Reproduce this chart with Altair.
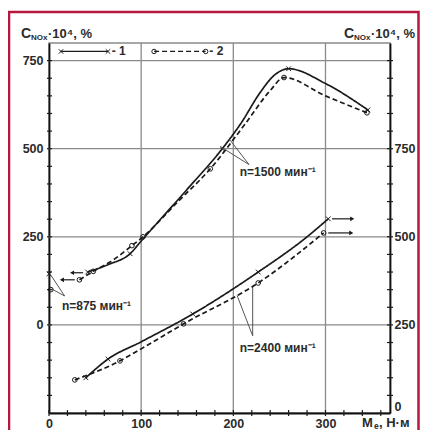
import altair as alt
import pandas as pd

# ---------------- data ----------------
# Me, N*m  vs  C_NOx*10^4, %
# n = 1500 1/min  (left axis)
n1500_1_x = [42, 65, 88, 100, 150, 188, 208, 229, 243, 260, 300, 346]
n1500_1_y = [150, 172, 202, 238, 385, 500, 571, 659, 705, 727, 685, 610]
n1500_2_x = [33, 48, 70, 90, 102, 140, 175, 213, 240, 255, 300, 345]
n1500_2_y = [128, 152, 185, 225, 250, 350, 443, 571, 665, 702, 650, 602]
n1500_1_mx = [42, 88, 188, 260, 346]
n1500_1_my = [150, 202, 500, 727, 610]
n1500_2_mx = [33, 48, 90, 102, 175, 255, 345]
n1500_2_my = [128, 152, 225, 250, 443, 702, 602]
# n = 875 1/min (left axis)
n875_x = [0, 2]
n875_y = [145, 100]
n875_s = ["1", "2"]
# n = 2400 1/min (right axis)
n2400_1_x = [40, 64, 100, 156, 227, 280, 303]
n2400_1_y = [100, 153, 202, 281, 400, 500, 551]
n2400_2_x = [28, 77, 100, 146, 227, 298]
n2400_2_y = [94, 148, 182, 253, 369, 511]
n2400_1_mx = [40, 64, 156, 227, 303]
n2400_1_my = [100, 153, 281, 400, 551]
n2400_2_mx = [28, 77, 146, 227, 298]
n2400_2_my = [94, 148, 253, 369, 511]

# axes
x_labels = [0, 100, 200, 300]
x_minor = list(range(0, 371, 20))
yl_labels = [0, 250, 500, 750]
yl_minor = list(range(-200, 800, 50))
yr_labels = [0, 250, 500, 750]
yr_minor = list(range(50, 1050, 50))

# arrows (left axis for 1500, right axis for 2400)
arrL_x = [37, 28]; arrL_x2 = [25, 14]; arrL_y = [148, 128]
arrR_x = [307, 303]; arrR_x2 = [329, 328]; arrR_y = [551, 511]

# annotation leaders (left-axis units)
lead_x = [17, 17, 217, 217, 221, 221]
lead_y = [82, 82, 455, 455, -31, -31]
lead_x2 = [1, 3, 186, 196, 204, 221]
lead_y2 = [145, 102, 506, 526, 84, 110]
ann_x = [14, 207, 207]
ann_y = [54, 435, -65]
ann_t = ["n=875 мин⁻¹", "n=1500 мин⁻¹", "n=2400 мин⁻¹"]

# legend (left-axis units)
leg_x = [13, 64, 114, 170]
leg_y = [776, 776, 776, 776]
leg_s = ["1", "1", "2", "2"]
leg_tx = [68, 174]
leg_tt = ["- 1", "- 2"]

# ---------------- chart ----------------
FONT = "Liberation Sans"
TXT = "#2b2b2b"
GRID = "#8a8a8a"
INK = "#1a1a1a"
XPATH = "M-1,-1L1,1M-1,1L1,-1"

XS = alt.Scale(domain=[0, 370], nice=False, zero=False)
YL = alt.Scale(domain=[-250, 800], nice=False, zero=False)
YR = alt.Scale(domain=[0, 1050], nice=False, zero=False)
AX = alt.Axis(values=x_labels, title=None, labelPadding=4, labelFlush=False,
              orient="bottom")
AYL = alt.Axis(values=yl_labels, orient="left", title=None, labelPadding=6,
               labelFlush=False)
AYR = alt.Axis(values=yr_labels, orient="right", title=None, labelPadding=4,
               labelFlush=True)
dash_scale = alt.Scale(domain=["1", "2"], range=[[1, 0], [5, 3]])
shape_scale = alt.Scale(domain=["1", "2"], range=[XPATH, "circle"])


def long(pairs):
    rows = []
    for s, xs, ys in pairs:
        for a, b in zip(xs, ys):
            rows.append({"x": a, "y": b, "s": s})
    return pd.DataFrame(rows)


def xe(f="x"):
    return alt.X(f + ":Q", scale=XS, axis=AX)


def yl(f="y"):
    return alt.Y(f + ":Q", scale=YL, axis=AYL)


def yr(f="y"):
    return alt.Y(f + ":Q", scale=YR, axis=AYR)


one = pd.DataFrame({"a": [0]})

# grid + ticks (left group)
hgrid = alt.Chart(pd.DataFrame({"y": yl_labels})).mark_rule(
    color=GRID, strokeWidth=1.3).encode(y=yl())
vgrid = alt.Chart(pd.DataFrame({"x": x_labels[1:]})).mark_rule(
    color=GRID, strokeWidth=1.3).encode(x=xe())
lticks = alt.Chart(pd.DataFrame({"y": yl_minor})).mark_rule(
    color=INK, strokeWidth=1.2).encode(y=yl(), x=alt.value(-2), x2=alt.value(3))
bticks = alt.Chart(pd.DataFrame({"x": x_minor})).mark_rule(
    color=INK, strokeWidth=1.2).encode(x=xe(), y=alt.value(367), y2=alt.value(373))

c1500 = long([("1", n1500_1_x, n1500_1_y), ("2", n1500_2_x, n1500_2_y)])
m1500 = long([("1", n1500_1_mx, n1500_1_my), ("2", n1500_2_mx, n1500_2_my)])
lines1500 = alt.Chart(c1500).mark_line(
    color=INK, strokeWidth=1.7, interpolate="monotone").encode(
    x=xe(), y=yl(),
    strokeDash=alt.StrokeDash("s:N", scale=dash_scale, legend=None),
    detail="s:N")
marks_left = alt.Chart(pd.concat([m1500, pd.DataFrame(
    {"x": n875_x, "y": n875_y, "s": n875_s})])).mark_point(
    color=INK, filled=False, strokeWidth=1, size=22, opacity=1).encode(
    x=xe(), y=yl(), shape=alt.Shape("s:N", scale=shape_scale, legend=None))

arrL = pd.DataFrame({"x": arrL_x, "x2": arrL_x2, "y": arrL_y})
arrL_line = alt.Chart(arrL).mark_rule(color=INK, strokeWidth=1.2).encode(
    x=xe(), x2="x2:Q", y=yl())
arrL_head = alt.Chart(arrL).mark_point(
    shape="triangle-left", filled=True, color=INK, size=22, opacity=1).encode(
    x=xe("x2"), y=yl())

leaders = alt.Chart(pd.DataFrame({"x": lead_x, "y": lead_y, "x2": lead_x2, "y2": lead_y2})).mark_rule(
    color="#555555", strokeWidth=1).encode(x=xe(), x2="x2:Q", y=yl(), y2="y2:Q")
ann = alt.Chart(pd.DataFrame({"x": ann_x, "y": ann_y, "t": ann_t})).mark_text(
    align="left", baseline="middle", font=FONT, fontSize=12, fontWeight="bold",
    color=TXT).encode(x=xe(), y=yl(), text="t:N")

legdf = pd.DataFrame({"x": leg_x, "y": leg_y, "s": leg_s})
leg_lines = alt.Chart(legdf).mark_line(color=INK, strokeWidth=1.3).encode(
    x=xe(), y=yl(),
    strokeDash=alt.StrokeDash("s:N", scale=dash_scale, legend=None), detail="s:N")
leg_pts = alt.Chart(legdf).mark_point(
    color=INK, filled=False, strokeWidth=1, size=20, opacity=1).encode(
    x=xe(), y=yl(), shape=alt.Shape("s:N", scale=shape_scale, legend=None))
leg_txt = alt.Chart(pd.DataFrame({"x": leg_tx, "y": [776, 776], "t": leg_tt})).mark_text(
    align="left", baseline="middle", font=FONT, fontSize=12, fontWeight="bold",
    color=TXT).encode(x=xe(), y=yl(), text="t:N")


# titles (positioned in pixels around the plot area)
def label(text, px, py, size, align="left"):
    return alt.Chart(one).mark_text(
        text=text, align=align, baseline="alphabetic", font=FONT, fontSize=size,
        fontWeight="bold", color=TXT).encode(x=alt.value(px), y=alt.value(py))


titles = [
    label("C", -28, -5, 14), label("NOx", -18, -3, 8), label("·10⁴, %", -1, -5, 13),
    label("C", 295, -5, 14), label("NOx", 305, -3, 8), label("·10⁴, %", 322, -5, 13),
    label("M", 313, 384, 13), label("e", 325, 386, 8.5), label(", Н·м", 330, 384, 13),
]

border = alt.Chart(one).mark_rect(
    fill=None, stroke="#b5173f", strokeWidth=2.5, clip=False).encode(
    x=alt.value(-40), x2=alt.value(369.5), y=alt.value(-31), y2=alt.value(440))

left = alt.layer(hgrid, vgrid, lticks, bticks, lines1500, marks_left,
                 arrL_line, arrL_head, leaders, ann, leg_lines, leg_pts,
                 leg_txt, border, *titles)

# right group (n = 2400)
c2400 = long([("1", n2400_1_x, n2400_1_y), ("2", n2400_2_x, n2400_2_y)])
m2400 = long([("1", n2400_1_mx, n2400_1_my), ("2", n2400_2_mx, n2400_2_my)])
rticks = alt.Chart(pd.DataFrame({"y": yr_minor})).mark_rule(
    color=INK, strokeWidth=1.2).encode(y=yr(), x=alt.value(338), x2=alt.value(344))
lines2400 = alt.Chart(c2400).mark_line(
    color=INK, strokeWidth=1.7, interpolate="monotone").encode(
    x=xe(), y=yr(),
    strokeDash=alt.StrokeDash("s:N", scale=dash_scale, legend=None),
    detail="s:N")
marks2400 = alt.Chart(m2400).mark_point(
    color=INK, filled=False, strokeWidth=1, size=22, opacity=1).encode(
    x=xe(), y=yr(), shape=alt.Shape("s:N", scale=shape_scale, legend=None))
arrR = pd.DataFrame({"x": arrR_x, "x2": arrR_x2, "y": arrR_y})
arrR_line = alt.Chart(arrR).mark_rule(color=INK, strokeWidth=1.2).encode(
    x=xe(), x2="x2:Q", y=yr())
arrR_head = alt.Chart(arrR).mark_point(
    shape="triangle-right", filled=True, color=INK, size=22, opacity=1).encode(
    x=xe("x2"), y=yr())

right = alt.layer(rticks, lines2400, marks2400, arrR_line, arrR_head)

chart = alt.layer(left, right).resolve_scale(
    y="independent", strokeDash="shared", shape="shared"
).properties(
    width=341, height=370,
    autosize=alt.AutoSizeParams(type="none"),
    padding={"left": 41, "top": 35, "right": 30, "bottom": 17},
    background="white",
).configure_view(
    stroke=GRID, strokeWidth=1.5
).configure_axis(
    domainColor="#111111", domainWidth=1.8, ticks=False, grid=False,
    labelFont=FONT, labelFontSize=12.5, labelFontWeight="bold", labelColor=TXT,
)

chart.save("out.html", embed_options={"renderer": "svg", "actions": False})
